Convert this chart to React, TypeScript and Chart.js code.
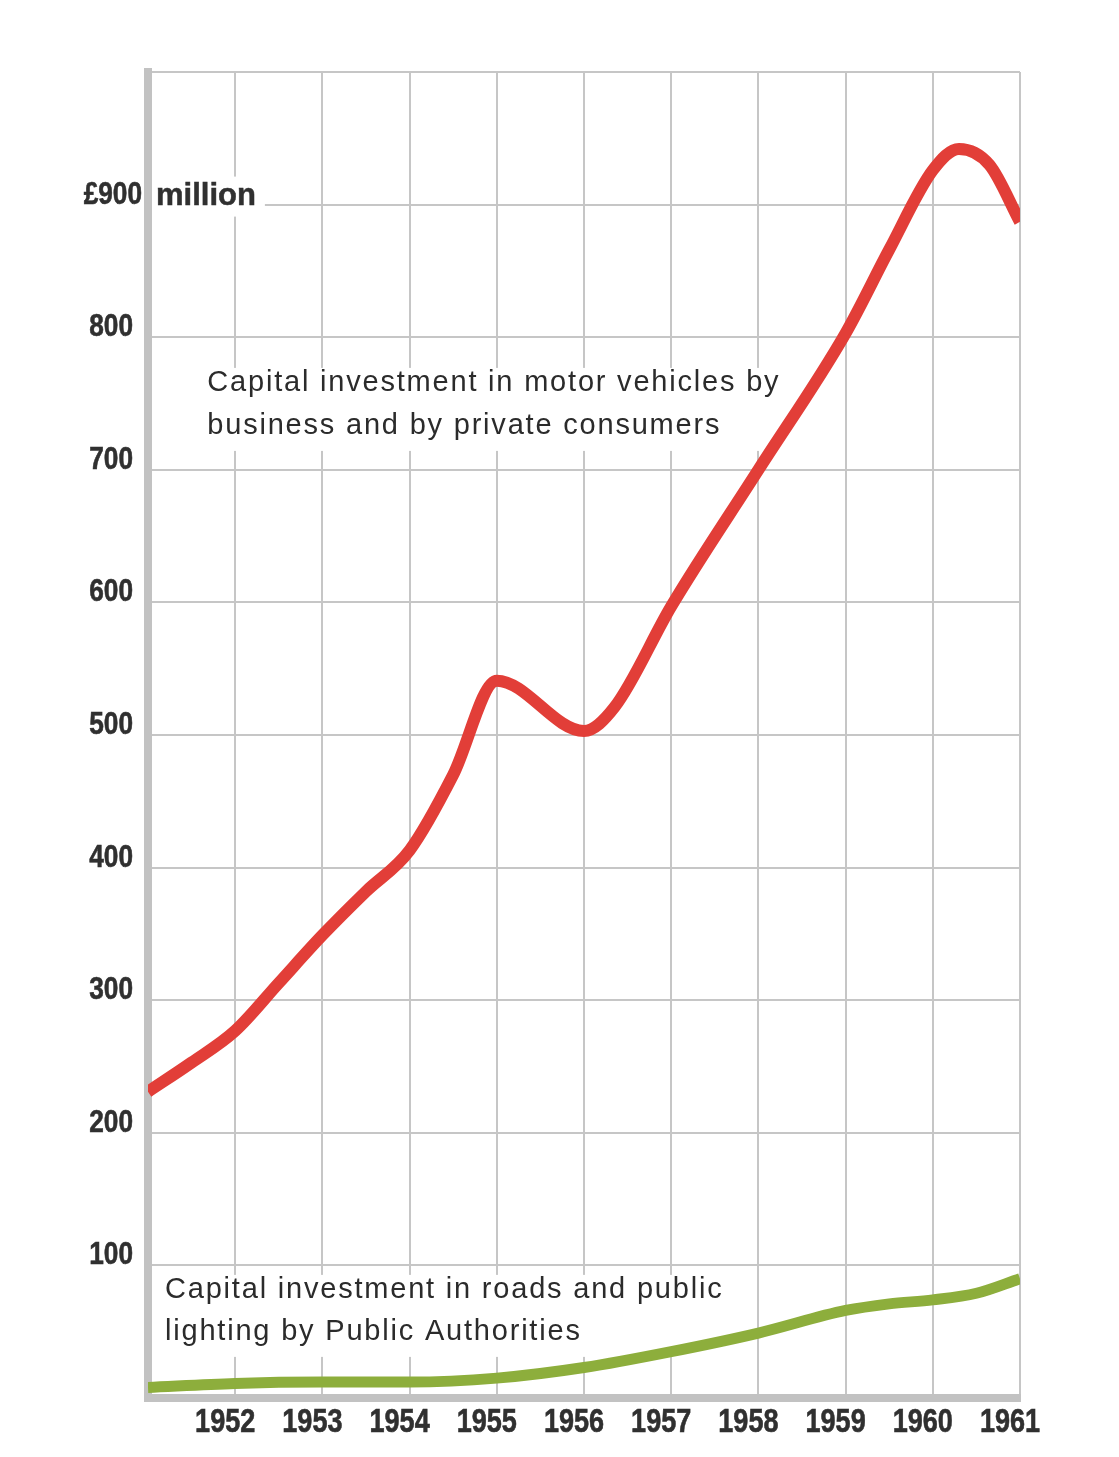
import React, { useEffect, useRef } from 'react';
import { Chart, registerables } from 'chart.js';

Chart.register(...registerables);

// ---- Data ----
const motorYears = [1951, 1951.5, 1952, 1952.5, 1953, 1953.5, 1954, 1954.5, 1955, 1956, 1956.35, 1957, 1958, 1959, 1959.5, 1960, 1960.3, 1960.65, 1961];
const motorValues = [231, 253, 277, 313, 349, 382, 413, 470, 541, 503, 521, 597, 700, 803, 866, 926, 942, 930, 887];

const roadYears = [1951, 1952, 1953, 1954, 1955, 1956, 1957, 1958, 1959, 1959.5, 1960, 1960.5, 1961];
const roadValues = [8, 11, 12, 12, 15, 23, 35, 49, 66, 71, 74, 79, 90];

const yearLabels = ['', '1952', '1953', '1954', '1955', '1956', '1957', '1958', '1959', '1960', '1961'];
const valueLabels = ['', '100', '200', '300', '400', '500', '600', '700', '800', '£900', ''];

const motorCaption = ['Capital investment in motor vehicles by', 'business and by private consumers'];
const roadCaption = ['Capital investment in roads and public', 'lighting by Public Authorities'];
const unitSuffix = 'million';

const TEXT_FONT = "'Liberation Sans', Arial, Helvetica, sans-serif";

// Tick labels: drawn at the scales' own tick positions, in a condensed bold face
const tickLabelPlugin = {
  id: 'condensedTicks',
  afterDraw(chart: any) {
    const { ctx, chartArea } = chart;
    const x = chart.scales.x;
    const y = chart.scales.y;
    ctx.save();
    ctx.fillStyle = '#303030';
    ctx.strokeStyle = '#303030';
    ctx.lineWidth = 0.6;
    ctx.textBaseline = 'alphabetic';

    // x axis
    ctx.font = `bold 33px ${TEXT_FONT}`;
    ctx.textAlign = 'center';
    x.ticks.forEach((t: any) => {
      const label = yearLabels[Math.round(t.value - 1951)] ?? '';
      if (!label) return;
      const px = x.getPixelForValue(t.value) - 10;
      const py = chartArea.bottom + 34;
      ctx.save();
      ctx.translate(px, py);
      ctx.scale(0.82, 1);
      ctx.fillText(label, 0, 0);
      ctx.strokeText(label, 0, 0);
      ctx.restore();
    });

    // y axis
    ctx.font = `bold 32px ${TEXT_FONT}`;
    ctx.textAlign = 'right';
    y.ticks.forEach((t: any) => {
      const label = valueLabels[Math.round(t.value / 100)] ?? '';
      if (!label) return;
      const shift = t.value === 900 ? 9 : 0;
      const px = chartArea.left - 15 + shift;
      const py = y.getPixelForValue(t.value) - 1;
      ctx.save();
      ctx.translate(px, py);
      ctx.scale(0.82, 1);
      ctx.fillText(label, 0, 0);
      ctx.strokeText(label, 0, 0);
      ctx.restore();
    });
    ctx.restore();
  },
};

const annotationPlugin = {
  id: 'captions',
  beforeDatasetsDraw(chart: any) {
    const { ctx, chartArea } = chart;
    const x = chart.scales.x;
    const y = chart.scales.y;
    ctx.save();

    // "million" after the £900 tick
    ctx.font = `bold 31px ${TEXT_FONT}`;
    const mBase = y.getPixelForValue(900);
    const mX = chartArea.left + 8;
    const mW = ctx.measureText(unitSuffix).width;
    ctx.fillStyle = '#ffffff';
    ctx.fillRect(chartArea.left + 4, mBase - 28, mW + 13, 40);
    ctx.fillStyle = '#303030';
    ctx.strokeStyle = '#303030';
    ctx.lineWidth = 0.5;
    ctx.textBaseline = 'alphabetic';
    ctx.textAlign = 'left';
    ctx.fillText(unitSuffix, mX, mBase);
    ctx.strokeText(unitSuffix, mX, mBase);

    const drawCaption = (lines: string[], xv: number, yv: number, lh: number) => {
      ctx.font = `29px ${TEXT_FONT}`;
      (ctx as any).letterSpacing = '1.8px';
      const px = x.getPixelForValue(xv);
      const py = y.getPixelForValue(yv);
      let maxW = 0;
      lines.forEach((l) => { maxW = Math.max(maxW, ctx.measureText(l).width); });
      ctx.fillStyle = '#ffffff';
      ctx.fillRect(px - 7, py - 23, maxW + 16, lh * (lines.length - 1) + 40);
      ctx.fillStyle = '#2b2b2b';
      lines.forEach((l, i) => ctx.fillText(l, px, py + i * lh));
      (ctx as any).letterSpacing = '0px';
    };

    drawCaption(motorCaption, 1951.68, 759.5, 43);
    drawCaption(roadCaption, 1951.195, 75.5, 42);

    ctx.restore();
  },
};

export default function App() {
  const canvasRef = useRef<HTMLCanvasElement | null>(null);

  useEffect(() => {
    if (!canvasRef.current) return;
    const chart = new Chart(canvasRef.current, {
      type: 'line',
      data: {
        datasets: [
          {
            label: 'Motor vehicles',
            data: motorYears.map((yr, i) => ({ x: yr, y: motorValues[i] })),
            borderColor: '#e23e38',
            borderWidth: 12,
            pointRadius: 0,
            cubicInterpolationMode: 'monotone',
            borderCapStyle: 'butt',
            borderJoinStyle: 'round',
            clip: 0,
            fill: false,
          },
          {
            label: 'Roads',
            data: roadYears.map((yr, i) => ({ x: yr, y: roadValues[i] })),
            borderColor: '#8dae3c',
            borderWidth: 11,
            pointRadius: 0,
            cubicInterpolationMode: 'monotone',
            borderCapStyle: 'butt',
            clip: 0,
            fill: false,
          },
        ],
      },
      options: {
        animation: false,
        responsive: false,
        events: [],
        layout: { padding: { left: 0, top: 64, right: 91, bottom: 0 } },
        plugins: {
          legend: { display: false },
          tooltip: { enabled: false },
          title: { display: false },
        },
        scales: {
          x: {
            type: 'linear',
            min: 1951,
            max: 1961,
            afterFit: (s: any) => { s.height = 51; },
            grid: { color: '#c6c6c6', lineWidth: 2, drawTicks: false },
            border: { display: true, color: '#c2c2c2', width: 8 },
            ticks: { stepSize: 1, autoSkip: false, maxRotation: 0, display: false },
          },
          y: {
            type: 'linear',
            min: 0,
            max: 1000,
            afterFit: (s: any) => { s.width = 140; },
            grid: { color: '#c6c6c6', lineWidth: 2, drawTicks: false },
            border: { display: true, color: '#c2c2c2', width: 8 },
            ticks: { stepSize: 100, autoSkip: false, display: false },
          },
        },
      },
      plugins: [annotationPlugin, tickLabelPlugin],
    } as any);
    return () => chart.destroy();
  }, []);

  return (
    <div style={{ width: 1103, height: 1441, background: '#ffffff' }}>
      <canvas ref={canvasRef} width={1103} height={1441} style={{ display: 'block' }} />
    </div>
  );
}
